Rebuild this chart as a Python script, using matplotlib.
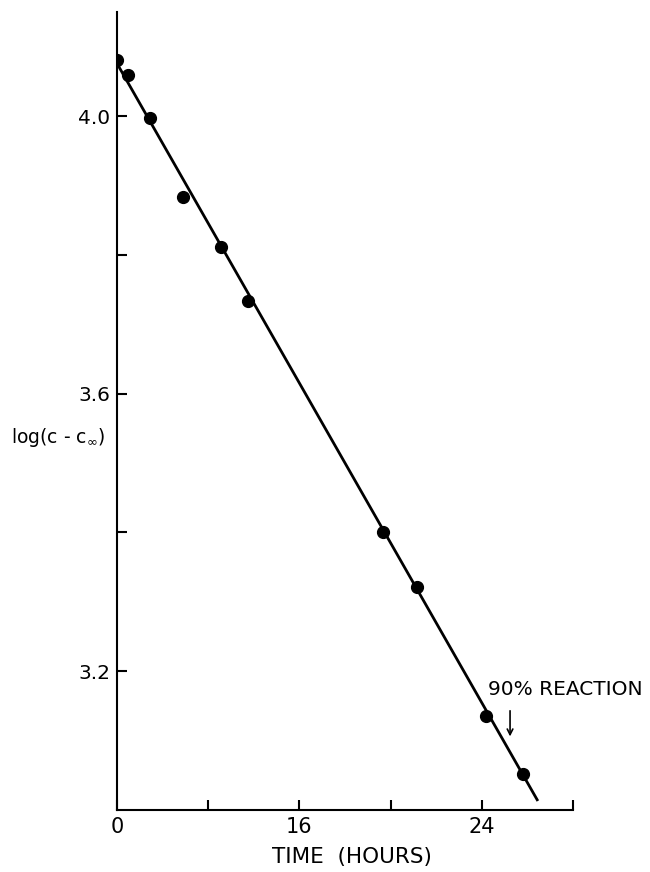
import matplotlib.pyplot as plt

# Measured points: time (hours) vs log(c - c_inf)
time_h = [8.0, 8.48, 9.45, 10.89, 12.56, 13.75, 19.67, 21.16, 24.18, 25.8]
log_c = [4.081, 4.059, 3.997, 3.883, 3.811, 3.734, 3.401, 3.321, 3.135, 3.052]

# Fitted straight line (end points)
fit_t = [8.0, 26.46]
fit_y = [4.076, 3.013]

x_ticks = [8, 12, 16, 20, 24, 28]
x_labels = ['0', '', '16', '', '24', '']
y_ticks = [3.2, 3.4, 3.6, 3.8, 4.0]
y_labels = ['3.2', '', '3.6', '', '4.0']

fig = plt.figure(figsize=(6.5, 8.72), dpi=100)
ax = fig.add_axes([0.18, 0.0711, 0.7015, 0.915])

ax.plot(fit_t, fit_y, color='black', lw=2.0, solid_capstyle='butt')
ax.plot(time_h, log_c, 'o', color='black', ms=8.5)

ax.set_xlim(8, 28)
ax.set_ylim(3.0, 4.15)
ax.spines['top'].set_visible(False)
ax.spines['right'].set_visible(False)
for s in ('left', 'bottom'):
    ax.spines[s].set_linewidth(1.5)

ax.set_xticks(x_ticks)
ax.set_xticklabels(x_labels)
ax.set_yticks(y_ticks)
ax.set_yticklabels(y_labels)
ax.tick_params(direction='in', length=7, width=1.5)
ax.tick_params(axis='x', labelsize=15, pad=5)
ax.tick_params(axis='y', labelsize=14.5, pad=5)

ax.set_xlabel('TIME  (HOURS)', fontsize=15.5, labelpad=7, x=0.515)
ax.text(-0.025, 0.467, r'log(c - c$_\infty$)', transform=ax.transAxes,
        ha='right', va='center', fontsize=13.5)

# 90% reaction marker
ax.annotate('', xy=(25.24, 3.102), xytext=(25.24, 3.147),
            arrowprops=dict(arrowstyle='->', color='black', lw=1.2))
ax.text(24.27, 3.174, '90% REACTION', fontsize=14.5, ha='left', va='center')

fig.savefig('out.png', dpi=100)
